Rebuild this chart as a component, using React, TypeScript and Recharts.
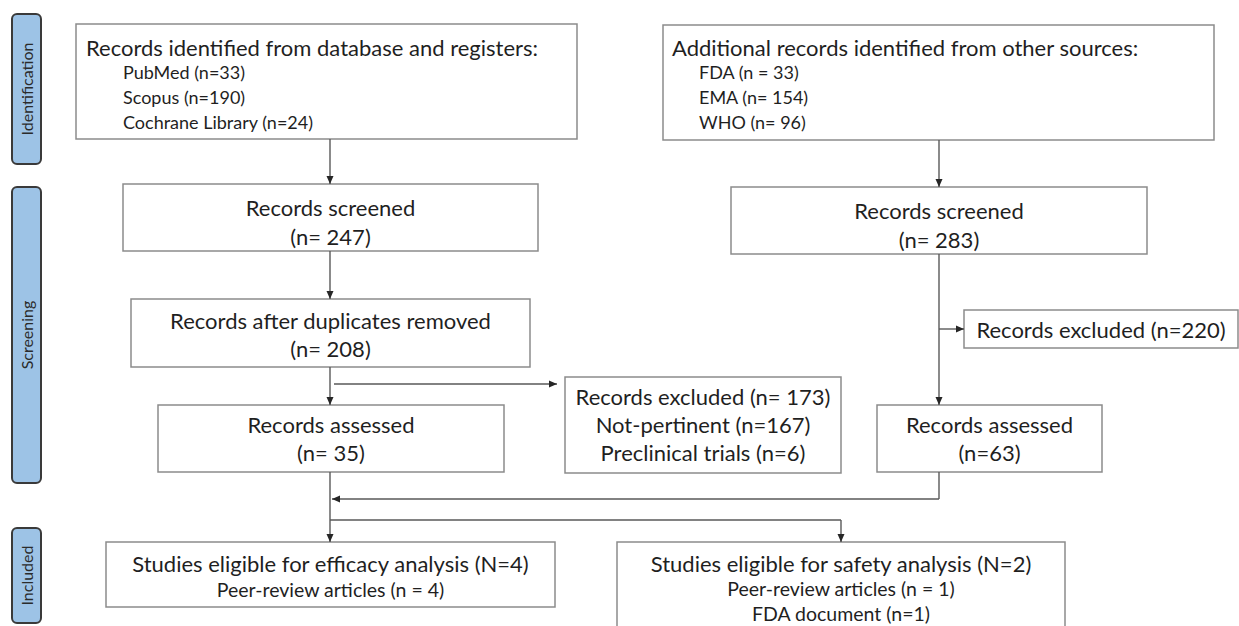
import React from "react";
import { ComposedChart, XAxis, YAxis, ReferenceArea, ReferenceLine } from "recharts";

// PRISMA flow laid out in a 1239 x 626 coordinate space (y grows downward)
const stageNames = ["Identification", "Screening", "Included"];
const stageSpans = [
  [14, 164],
  [187, 483],
  [528, 623],
];

const dbHeading = "Records identified from database and registers:";
const dbSources = ["PubMed (n=33)", "Scopus (n=190)", "Cochrane Library (n=24)"];
const otherHeading = "Additional records identified from other sources:";
const otherSources = ["FDA (n = 33)", "EMA (n= 154)", "WHO (n= 96)"];
const screenedN = [247, 283];
const dedupN = 208;
const excludedOtherN = 220;
const excludedDbLines = ["Records excluded (n= 173)", "Not-pertinent (n=167)", "Preclinical trials (n=6)"];
const assessedN = [35, 63];
const efficacyLines = ["Studies eligible for efficacy analysis (N=4)", "Peer-review articles (n = 4)"];
const safetyLines = ["Studies eligible for safety analysis (N=2)", "Peer-review articles (n = 1)", "FDA document (n=1)"];

type Line = { text: string; size: number; indent?: number };
type Box = {
  x1: number;
  x2: number;
  y1: number;
  y2: number;
  align: "left" | "center";
  top: number;
  gap: number;
  lines: Line[];
};

const boxes: Box[] = [
  {
    x1: 76, x2: 577, y1: 24, y2: 139, align: "left", top: 23, gap: 25,
    lines: [{ text: dbHeading, size: 22, indent: 10 }, ...dbSources.map((t) => ({ text: t, size: 18, indent: 47 }))],
  },
  {
    x1: 663, x2: 1214, y1: 25, y2: 140, align: "left", top: 22, gap: 25,
    lines: [{ text: otherHeading, size: 22, indent: 9 }, ...otherSources.map((t) => ({ text: t, size: 18, indent: 36 }))],
  },
  {
    x1: 123, x2: 538, y1: 184, y2: 251, align: "center", top: 23, gap: 29,
    lines: [{ text: "Records screened", size: 22 }, { text: `(n= ${screenedN[0]})`, size: 22 }],
  },
  {
    x1: 731, x2: 1147, y1: 187, y2: 254, align: "center", top: 23, gap: 29,
    lines: [{ text: "Records screened", size: 22 }, { text: `(n= ${screenedN[1]})`, size: 22 }],
  },
  {
    x1: 131, x2: 530, y1: 299, y2: 367, align: "center", top: 21, gap: 28,
    lines: [{ text: "Records after duplicates removed", size: 22 }, { text: `(n= ${dedupN})`, size: 22 }],
  },
  {
    x1: 964, x2: 1238, y1: 310, y2: 348, align: "center", top: 19, gap: 0,
    lines: [{ text: `Records excluded (n=${excludedOtherN})`, size: 22 }],
  },
  {
    x1: 565, x2: 841, y1: 377, y2: 473, align: "center", top: 19, gap: 28,
    lines: excludedDbLines.map((t) => ({ text: t, size: 22 })),
  },
  {
    x1: 158, x2: 504, y1: 405, y2: 472, align: "center", top: 19, gap: 28,
    lines: [{ text: "Records assessed", size: 22 }, { text: `(n= ${assessedN[0]})`, size: 22 }],
  },
  {
    x1: 877, x2: 1102, y1: 405, y2: 472, align: "center", top: 19, gap: 28,
    lines: [{ text: "Records assessed", size: 22 }, { text: `(n=${assessedN[1]})`, size: 22 }],
  },
  {
    x1: 106, x2: 555, y1: 542, y2: 607, align: "center", top: 21, gap: 26,
    lines: [{ text: efficacyLines[0], size: 22 }, { text: efficacyLines[1], size: 19.5 }],
  },
  {
    x1: 617, x2: 1065, y1: 542, y2: 640, align: "center", top: 21, gap: 25,
    lines: [{ text: safetyLines[0], size: 22 }, { text: safetyLines[1], size: 19.5 }, { text: safetyLines[2], size: 19.5 }],
  },
];

// connectors: [from, to, arrowhead]
const links: [number[], number[], boolean][] = [
  [[330, 139], [330, 184], true],
  [[939, 140], [939, 187], true],
  [[330, 251], [330, 299], true],
  [[330, 367], [330, 405], true],
  [[334, 384], [557, 384], true],
  [[939, 254], [939, 405], true],
  [[939, 329], [964, 329], true],
  [[330, 472], [330, 542], true],
  [[939, 472], [939, 499], false],
  [[939, 499], [332, 499], true],
  [[330, 520], [841, 520], false],
  [[841, 520], [841, 542], true],
];

const FONT = "Lato, 'Open Sans', sans-serif";

function BoxText(props: any) {
  const { viewBox, box } = props;
  const { x, y, width } = viewBox;
  return (
    <g>
      {box.lines.map((l: Line, i: number) => (
        <text
          key={i}
          x={box.align === "left" ? x + (l.indent || 0) : x + width / 2}
          y={y + box.top + i * box.gap}
          textAnchor={box.align === "left" ? "start" : "middle"}
          dominantBaseline="central"
          fontSize={l.size}
          fontFamily={FONT}
          fill="#1f1f1f"
        >
          {l.text}
        </text>
      ))}
    </g>
  );
}

function StageText(props: any) {
  const { viewBox, name } = props;
  const cx = viewBox.x + viewBox.width / 2;
  const cy = viewBox.y + viewBox.height / 2;
  return (
    <text
      x={cx}
      y={cy}
      transform={`rotate(-90 ${cx} ${cy})`}
      textAnchor="middle"
      dominantBaseline="central"
      fontSize={16}
      fontFamily={FONT}
      fill="#2b2b2b"
    >
      {name}
    </text>
  );
}

function Connector(props: any, head: boolean) {
  const { x1, y1, x2, y2 } = props;
  const dx = x2 - x1;
  const dy = y2 - y1;
  const len = Math.sqrt(dx * dx + dy * dy) || 1;
  const ux = dx / len;
  const uy = dy / len;
  const h = 8;
  const w = 3.5;
  const bx = x2 - ux * h;
  const by = y2 - uy * h;
  return (
    <g>
      <line x1={x1} y1={y1} x2={x2} y2={y2} stroke="#595959" strokeWidth={1.4} />
      {head && (
        <polygon
          points={`${x2},${y2} ${bx - uy * w},${by + ux * w} ${bx + uy * w},${by - ux * w}`}
          fill="#262626"
        />
      )}
    </g>
  );
}

export default function App() {
  return (
    <div style={{ position: "absolute", left: 0, top: 0, background: "#fff" }}>
      <ComposedChart width={1239} height={626} data={[]} margin={{ top: 0, right: 0, bottom: 0, left: 0 }}>
        <XAxis type="number" dataKey="x" domain={[0, 1239]} hide allowDataOverflow />
        <YAxis type="number" dataKey="y" domain={[0, 626]} reversed hide allowDataOverflow />
        {stageNames.map((name, i) => (
          <ReferenceArea
            key={name}
            x1={12}
            x2={41}
            y1={stageSpans[i][0]}
            y2={stageSpans[i][1]}
            ifOverflow="visible"
            shape={(p: any) => (
              <rect x={p.x} y={p.y} width={p.width} height={p.height} rx={5} fill="#9dc3e6" stroke="#3a3a3a" strokeWidth={2} />
            )}
            label={<StageText name={name} />}
          />
        ))}
        {links.map(([a, b, head], i) => (
          <ReferenceLine
            key={"l" + i}
            segment={[
              { x: a[0], y: a[1] },
              { x: b[0], y: b[1] },
            ]}
            ifOverflow="visible"
            shape={(p: any) => Connector(p, head)}
          />
        ))}
        {boxes.map((b, i) => (
          <ReferenceArea
            key={"b" + i}
            x1={b.x1}
            x2={b.x2}
            y1={b.y1}
            y2={b.y2}
            ifOverflow="visible"
            fill="#fff"
            fillOpacity={1}
            stroke="#8c8c8c"
            strokeWidth={1.5}
            label={<BoxText box={b} />}
          />
        ))}
      </ComposedChart>
    </div>
  );
}
